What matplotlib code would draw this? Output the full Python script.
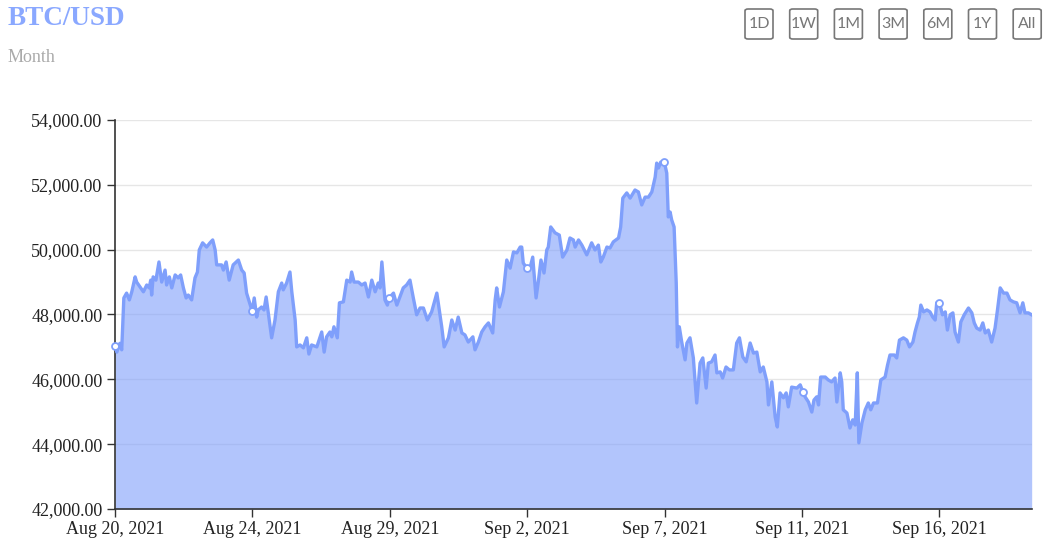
import matplotlib
matplotlib.use("Agg")
import matplotlib.pyplot as plt
import matplotlib.dates as mdates
from matplotlib.patches import FancyBboxPatch
from matplotlib.ticker import FuncFormatter
import numpy as np
import pandas as pd

# ---- data (days after Aug 20 2021 00:00, price in USD) ----
days = [
    0.00, 0.06, 0.16, 0.22, 0.25, 0.29, 0.38, 0.47, 0.55, 0.66, 0.71, 0.82, 0.93, 1.04, 1.12, 1.17,
    1.20, 1.25, 1.34, 1.44, 1.53, 1.64, 1.69, 1.78, 1.86, 1.97, 2.07, 2.15, 2.24, 2.33, 2.40, 2.51,
    2.62, 2.70, 2.76, 2.87, 3.00, 3.11, 3.20, 3.28, 3.33, 3.49, 3.55, 3.64, 3.74, 3.87, 4.04, 4.15,
    4.23, 4.31, 4.49, 4.56, 4.64, 4.69, 4.80, 4.88, 4.95, 5.02, 5.13, 5.24, 5.35, 5.46, 5.51, 5.62,
    5.73, 5.79, 5.90, 5.95, 6.06, 6.17, 6.28, 6.35, 6.44, 6.61, 6.77, 6.85, 6.93, 7.04, 7.10, 7.17,
    7.28, 7.35, 7.48, 7.59, 7.70, 7.75, 7.83, 7.97, 8.08, 8.19, 8.30, 8.41, 8.52, 8.62, 8.68, 8.74,
    8.84, 8.92, 8.98, 9.12, 9.23, 9.33, 9.44, 9.55, 9.66, 9.77, 9.88, 9.99, 10.10, 10.23, 10.37, 10.54,
    10.62, 10.70, 10.78, 10.92, 11.03, 11.14, 11.24, 11.36, 11.46, 11.57, 11.72, 11.79, 11.90, 12.01, 12.12, 12.23,
    12.37, 12.45, 12.50, 12.59, 12.72, 12.83, 12.94, 13.05, 13.16, 13.27, 13.32, 13.37, 13.48, 13.59, 13.68, 13.79,
    13.87, 13.95, 14.05, 14.14, 14.19, 14.27, 14.41, 14.55, 14.66, 14.80, 14.90, 15.01, 15.07, 15.18, 15.29, 15.45,
    15.61, 15.72, 15.83, 15.91, 15.99, 16.11, 16.21, 16.32, 16.49, 16.56, 16.63, 16.76, 16.87, 17.03, 17.14, 17.25,
    17.36, 17.47, 17.58, 17.69, 17.74, 17.80, 17.87, 17.99, 18.07, 18.12, 18.18, 18.23, 18.31, 18.38, 18.42, 18.48,
    18.56, 18.67, 18.73, 18.83, 18.94, 19.05, 19.16, 19.25, 19.36, 19.43, 19.54, 19.65, 19.71, 19.82, 19.90, 20.01,
    20.12, 20.25, 20.36, 20.45, 20.56, 20.67, 20.80, 20.91, 21.02, 21.13, 21.23, 21.35, 21.40, 21.51, 21.62, 21.69,
    21.78, 21.89, 21.98, 22.05, 22.16, 22.33, 22.44, 22.53, 22.60, 22.71, 22.82, 22.89, 22.98, 23.04, 23.11, 23.26,
    23.36, 23.47, 23.58, 23.64, 23.75, 23.80, 23.85, 23.97, 24.07, 24.16, 24.24, 24.31, 24.36, 24.46, 24.57, 24.67,
    24.75, 24.84, 24.97, 25.08, 25.22, 25.30, 25.38, 25.52, 25.60, 25.69, 25.82, 25.93, 26.02, 26.13, 26.20, 26.28,
    26.34, 26.39, 26.48, 26.59, 26.69, 26.78, 26.86, 26.91, 27.00, 27.10, 27.19, 27.26, 27.35, 27.44, 27.51, 27.62,
    27.70, 27.81, 27.95, 28.06, 28.14, 28.22, 28.33, 28.42, 28.50, 28.60, 28.71, 28.82, 28.90, 28.99, 29.10, 29.21,
    29.31, 29.42, 29.53, 29.64, 29.73, 29.80, 29.91, 30.02,
]
price = [
    47030, 46840, 47110, 46910, 47620, 48510, 48660, 48450, 48700, 49160, 49000, 48850, 48700, 48910, 48820, 49060,
    48600, 49160, 49060, 49620, 49000, 49370, 48910, 49160, 48820, 49220, 49130, 49220, 48820, 48510, 48600, 48450,
    49130, 49310, 49990, 50210, 50080, 50210, 50300, 49990, 49530, 49530, 49370, 49620, 49060, 49530, 49680, 49370,
    49280, 48660, 48110, 48510, 47920, 48140, 48230, 48140, 48540, 48050, 47280, 47830, 48700, 48970, 48760, 48970,
    49310, 48700, 47830, 47000, 47060, 46970, 47280, 46780, 47060, 47000, 47460, 46840, 47310, 47460, 47310, 47620,
    47280, 48360, 48390, 49060, 49000, 49310, 49000, 49000, 48910, 48970, 48540, 49060, 48700, 48970, 48820, 49620,
    48450, 48290, 48510, 48660, 48290, 48540, 48820, 48910, 49060, 48510, 47990, 48200, 48200, 47830, 48080, 48660,
    48140, 47620, 47000, 47280, 47830, 47520, 47920, 47430, 47370, 47150, 47310, 46910, 47150, 47460, 47620, 47740,
    47430, 48450, 48820, 48230, 48700, 49680, 49430, 49930, 49900, 50080, 50080, 49590, 49430, 49430, 49770, 48510,
    49060, 49680, 49280, 49990, 50080, 50700, 50520, 50450, 49770, 49990, 50360, 50300, 50080, 50300, 50140, 49840,
    50210, 49990, 50140, 49620, 49770, 50080, 50050, 50240, 50360, 50700, 51590, 51750, 51590, 51840, 51780, 51380,
    51620, 51620, 51780, 52240, 52670, 52520, 52700, 52700, 52360, 51010, 51160, 50920, 50700, 48970, 47000, 47620,
    47150, 46600, 47120, 47280, 46660, 45270, 46500, 46660, 45730, 46500, 46540, 46750, 46200, 46230, 46040, 46380,
    46290, 46290, 47120, 47280, 46690, 46540, 47120, 46810, 46840, 46230, 46380, 45920, 45210, 45920, 44840, 44530,
    45580, 45430, 45580, 45150, 45760, 45730, 45830, 45610, 45460, 45300, 44990, 45360, 45460, 45210, 46070, 46070,
    45980, 45920, 46040, 45300, 46200, 45920, 45060, 44960, 44500, 44750, 44590, 46200, 44040, 44650, 45060, 45270,
    45060, 45270, 45270, 45980, 46070, 46440, 46750, 46750, 46660, 47210, 47280, 47210, 47000, 47150, 47460, 47740,
    47920, 48290, 48080, 48140, 48080, 47920, 47830, 48360, 48360, 47990, 48080, 47520, 47990, 48050, 47460, 47150,
    47770, 47990, 48200, 48050, 47740, 47580, 47520, 47740, 47430, 47520, 47150, 47580, 48140, 48820, 48660, 48660,
    48450, 48390, 48360, 48050, 48360, 48050, 48050, 47990,
]
start = pd.Timestamp("2021-08-20")
tick_days = [0, 4.5, 9, 13.5, 18, 22.5, 27]
end_day = 30.04
y_ticks = [42000, 44000, 46000, 48000, 50000, 52000, 54000]
buttons = ["1D", "1W", "1M", "3M", "6M", "1Y", "All"]

LINE = "#7f9ffb"
dates = start + pd.to_timedelta(np.array(days), unit="D")

fig = plt.figure(figsize=(10.54, 5.55), dpi=100)
ax = fig.add_axes([0.1091, 0.0829, 0.8703, 0.7009])

ax.fill_between(dates, price, 42000, color=LINE, alpha=0.6, lw=0, zorder=2)
ax.plot(dates, price, color=LINE, lw=2.4, zorder=3, solid_joinstyle="round")

# markers at the tick positions (nearest data point)
idx = [int(np.argmin(np.abs(np.array(days) - t))) for t in tick_days]
ax.plot(dates[idx], [price[i] for i in idx], "o", ms=5, mfc="white", mec=LINE,
        mew=1.3, zorder=4, clip_on=False)

ax.set_ylim(42000, 54000)
ax.set_xlim(start, start + pd.Timedelta(days=end_day))
ax.set_yticks(y_ticks)
ax.yaxis.set_major_formatter(FuncFormatter(lambda v, p: f"{v:,.2f}"))
ax.set_xticks(list(start + pd.to_timedelta(np.array(tick_days), unit="D")))
ax.xaxis.set_major_formatter(FuncFormatter(
    lambda v, p: (lambda d: f"{d:%b} {d.day}, {d.year}")(mdates.num2date(v))))

ax.grid(axis="y", color="#e6e6e6", lw=1, zorder=1)
ax.set_axisbelow(True)
for s in ["top", "right"]:
    ax.spines[s].set_visible(False)
for s in ["left", "bottom"]:
    ax.spines[s].set_color("#333333")
    ax.spines[s].set_linewidth(1.2)
ax.tick_params(length=6, width=1, color="#333333", labelsize=13, labelcolor="#222222", pad=3)
for lab in ax.get_xticklabels() + ax.get_yticklabels():
    lab.set_fontfamily("Liberation Serif")

fig.text(0.0076, 0.966, "BTC/USD", color="#8aa8ff", fontsize=19.5, fontweight="bold",
         family="Liberation Serif", va="center", ha="left")
fig.text(0.0076, 0.897, "Month", color="#aaaaaa", fontsize=13,
         family="Liberation Serif", va="center", ha="left")

# range buttons
for i, b in enumerate(buttons):
    x0 = 745 + i * 44.7
    box = FancyBboxPatch((x0 / 1054, 1 - 39 / 555), 28 / 1054, 30 / 555,
                         boxstyle="round,pad=0,rounding_size=0.003",
                         transform=fig.transFigure, fc="white", ec="#777777", lw=1.2)
    fig.patches.append(box)
    fig.text((x0 + 14) / 1054, 1 - 24 / 555, b, ha="center", va="center",
             fontsize=11.5, color="#777777", family="Lato")

fig.savefig("out.png", dpi=100)
